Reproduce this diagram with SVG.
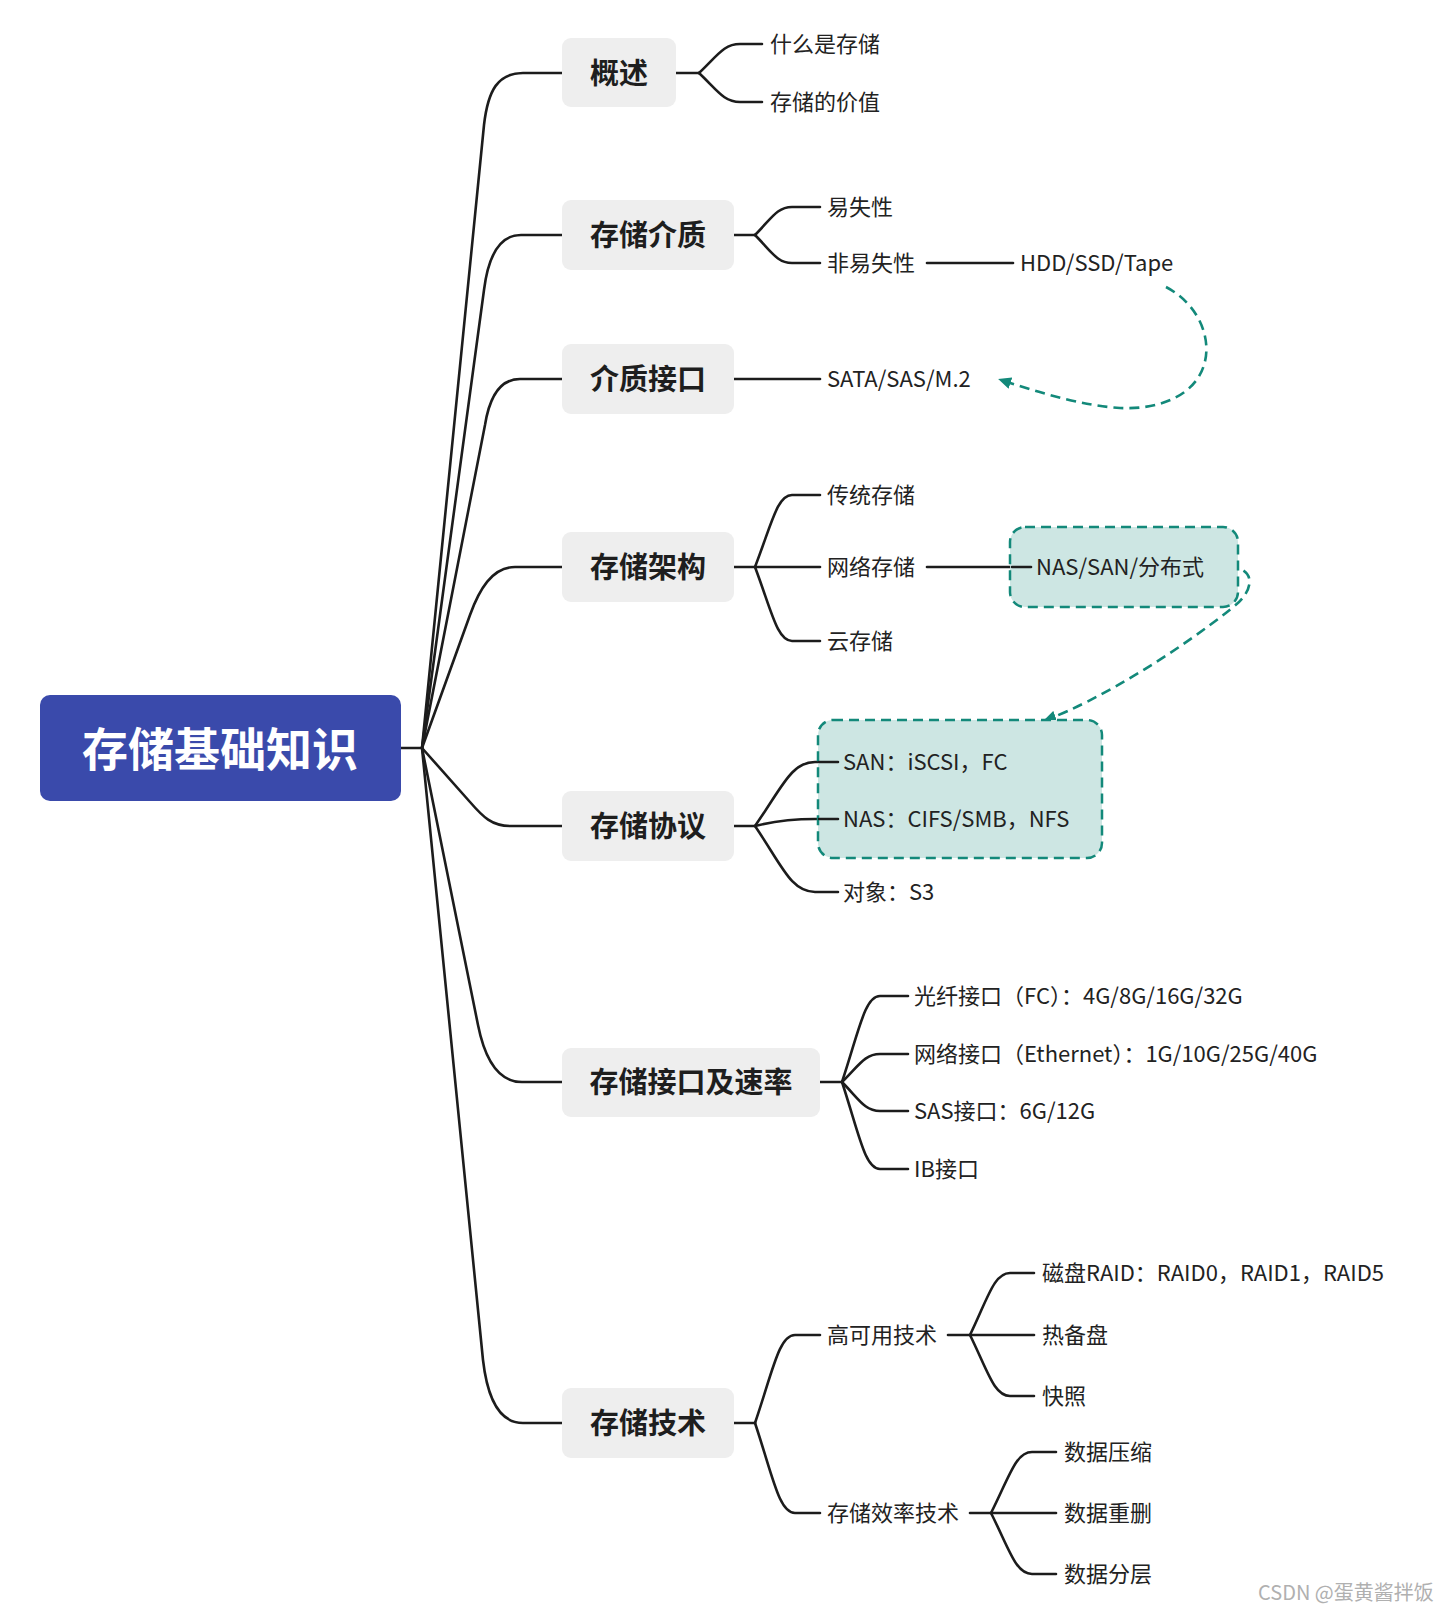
<svg xmlns="http://www.w3.org/2000/svg" width="1445" height="1614" viewBox="0 0 1445 1614">
<style>
.t{font-family:"Noto Sans CJK SC","Noto Sans",sans-serif;fill:#222;dominant-baseline:central;transform:translateY(-2px)}
.c{font-size:22px}
.b{font-size:29px;font-weight:bold;text-anchor:middle;fill:#1e1e1e}
.r{font-size:46px;font-weight:bold;text-anchor:middle;fill:#fff}
.box{fill:#eeeeee}
.dbox{fill:#cde6e3;stroke:#13897a;stroke-width:2.5;stroke-dasharray:10 6}
.ln{fill:none;stroke:#1c1c1c;stroke-width:2.6;stroke-linecap:round}
.rel{fill:none;stroke:#13897a;stroke-width:2.6;stroke-dasharray:10 6}
</style>
<defs>
<marker id="ah" markerWidth="13" markerHeight="12" refX="10" refY="6" orient="auto" markerUnits="userSpaceOnUse">
<path d="M0,0 L13,6 L0,12 Z" fill="#13897a"/>
</marker>
</defs>
<rect width="1445" height="1614" fill="#fff"/>

<g id="connectors">
<path class="ln" d="M401,748 L422,748"/>
<path class="ln" d="M422,748 L484,125 C488,90 498,73 523,73 L562,73"/>
<path class="ln" d="M422,748 L484,290 C488,258 498,235 521,235 L562,235"/>
<path class="ln" d="M422,748 L485,425 C489,400 498,379 520,379 L562,379"/>
<path class="ln" d="M422,748 L470,615 C479,590 492,567 515,567 L562,567"/>
<path class="ln" d="M422,748 L470,802 C483,817 492,826 510,826 L562,826"/>
<path class="ln" d="M422,748 L478,1025 C484,1055 496,1082 522,1082 L562,1082"/>
<path class="ln" d="M422,748 L483,1360 C487,1395 498,1423 523,1423 L562,1423"/>

<path class="ln" d="M676,73 L699,73"/>
<path class="ln" d="M699,73 C717.5,55.6 723.6,44 740,44 L762,44"/>
<path class="ln" d="M699,73 C717.5,90.4 723.6,102 740,102 L762,102"/>

<path class="ln" d="M734,235 L755,235"/>
<path class="ln" d="M755,235 C771.7,218.2 777.2,207 792,207 L820,207"/>
<path class="ln" d="M755,235 C771.7,251.8 777.2,263 792,263 L820,263"/>
<path class="ln" d="M927,263 L1013,263"/>

<path class="ln" d="M734,379 L820,379"/>

<path class="ln" d="M734,567 L820,567"/>
<path class="ln" d="M755,567 C771.7,523.8 777.2,495 792,495 L820,495"/>
<path class="ln" d="M755,567 C771.7,611.4 777.2,641 792,641 L820,641"/>
<path class="ln" d="M927,567 L1031,567"/>

<path class="ln" d="M734,826 L755,826"/>
<path class="ln" d="M755,826 C782,787.6 791,762 815,762 L838,762"/>
<path class="ln" d="M755,826 C775,821 790,819 815,819 L838,819"/>
<path class="ln" d="M755,826 C782,865.6 791,892 815,892 L838,892"/>

<path class="ln" d="M820,1082 L842,1082"/>
<path class="ln" d="M842,1082 C859.1,1030.4 864.8,996 880,996 L908,996"/>
<path class="ln" d="M842,1082 C859.1,1065.2 864.8,1054 880,1054 L908,1054"/>
<path class="ln" d="M842,1082 C859.1,1099.4 864.8,1111 880,1111 L908,1111"/>
<path class="ln" d="M842,1082 C859.1,1134.2 864.8,1169 880,1169 L908,1169"/>

<path class="ln" d="M734,1423 L755,1423"/>
<path class="ln" d="M755,1423 C773,1370.2 779,1335 795,1335 L820,1335"/>
<path class="ln" d="M755,1423 C773,1477 779,1513 795,1513 L820,1513"/>

<path class="ln" d="M948,1335 L1034,1335"/>
<path class="ln" d="M970,1335 C988,1297.8 994,1273 1010,1273 L1034,1273"/>
<path class="ln" d="M970,1335 C988,1371.6 994,1396 1010,1396 L1034,1396"/>

<path class="ln" d="M970,1513 L1056,1513"/>
<path class="ln" d="M991,1513 C1009.5,1476.4 1015.6,1452 1032,1452 L1056,1452"/>
<path class="ln" d="M991,1513 C1009.5,1549.6 1015.6,1574 1032,1574 L1056,1574"/>

<path class="rel" marker-end="url(#ah)" d="M1166,287 C1200,305 1212,340 1204,365 C1195,395 1160,410 1120,408 C1085,406 1040,393 1001,380"/>
<path class="rel" marker-end="url(#ah)" d="M1228,567 C1256,567 1256,590 1232,608 C1180,650 1100,700 1046,720"/>
</g>

<g id="root">
<rect x="40" y="695" width="361" height="106" rx="10" fill="#3a4aab"/>
<text class="t r" x="220" y="748">存储基础知识</text>
</g>

<g id="n-overview">
<rect class="box" x="562" y="38" width="114" height="69" rx="9"/>
<text class="t b" x="619" y="73">概述</text>
<text class="t c" x="770" y="44">什么是存储</text>
<text class="t c" x="770" y="102">存储的价值</text>
</g>

<g id="n-media">
<rect class="box" x="562" y="200" width="172" height="70" rx="9"/>
<text class="t b" x="648" y="235">存储介质</text>
<text class="t c" x="827" y="207">易失性</text>
<text class="t c" x="827" y="263">非易失性</text>
<text class="t c" x="1020" y="263">HDD/SSD/Tape</text>
</g>

<g id="n-media-if">
<rect class="box" x="562" y="344" width="172" height="70" rx="9"/>
<text class="t b" x="648" y="379">介质接口</text>
<text class="t c" x="827" y="379">SATA/SAS/M.2</text>
</g>

<g id="n-arch">
<rect class="box" x="562" y="532" width="172" height="70" rx="9"/>
<text class="t b" x="648" y="567">存储架构</text>
<text class="t c" x="827" y="495">传统存储</text>
<text class="t c" x="827" y="567">网络存储</text>
<text class="t c" x="827" y="641">云存储</text>
<rect class="dbox" x="1010" y="527" width="228" height="80" rx="15"/>
<path class="ln" d="M1012,567 L1031,567"/>
<text class="t c" x="1036" y="567">NAS/SAN/分布式</text>
</g>

<g id="n-proto">
<rect class="box" x="562" y="791" width="172" height="70" rx="9"/>
<text class="t b" x="648" y="826">存储协议</text>
<rect class="dbox" x="818" y="720" width="284" height="138" rx="15"/>
<path class="ln" d="M819,762 L838,762 M819,819 L838,819"/>
<text class="t c" x="843" y="762">SAN：iSCSI，FC</text>
<text class="t c" x="843" y="819">NAS：CIFS/SMB，NFS</text>
<text class="t c" x="843" y="892">对象：S3</text>
</g>

<g id="n-iface">
<rect class="box" x="562" y="1048" width="258" height="69" rx="9"/>
<text class="t b" x="691" y="1082">存储接口及速率</text>
<text class="t c" x="914" y="996">光纤接口（FC）：4G/8G/16G/32G</text>
<text class="t c" x="914" y="1054">网络接口（Ethernet）：1G/10G/25G/40G</text>
<text class="t c" x="914" y="1111">SAS接口：6G/12G</text>
<text class="t c" x="914" y="1169">IB接口</text>
</g>

<g id="n-tech">
<rect class="box" x="562" y="1388" width="172" height="70" rx="9"/>
<text class="t b" x="648" y="1423">存储技术</text>
<text class="t c" x="827" y="1335">高可用技术</text>
<text class="t c" x="827" y="1513">存储效率技术</text>
<text class="t c" x="1042" y="1273">磁盘RAID：RAID0，RAID1，RAID5</text>
<text class="t c" x="1042" y="1335">热备盘</text>
<text class="t c" x="1042" y="1396">快照</text>
<text class="t c" x="1064" y="1452">数据压缩</text>
<text class="t c" x="1064" y="1513">数据重删</text>
<text class="t c" x="1064" y="1574">数据分层</text>
</g>

<text class="t" x="1258" y="1593" font-size="20" style="fill:#b0b0b0">CSDN @蛋黄酱拌饭</text>
</svg>
